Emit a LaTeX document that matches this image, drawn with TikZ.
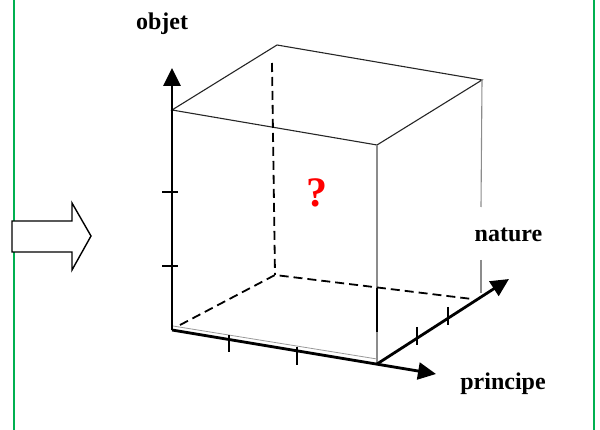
\documentclass[tikz,border=0pt]{standalone}
\usepackage{fontspec}
\setmainfont{Liberation Serif}
\usetikzlibrary{arrows.meta}
\definecolor{frameGreen}{RGB}{0,176,80}
\begin{document}
\begin{tikzpicture}[x=1pt,y=-1pt,
  axis/.style={line width=2.8pt, -{Triangle[length=18pt,width=17pt]}},
  tickmark/.style={line width=1.7pt},
  edge/.style={line width=1.1pt, black!85},
  greyedge/.style={line width=1.1pt, black!45},
  hidden/.style={line width=1.8pt, dash pattern=on 9pt off 5pt},
  lbl/.style={font=\fontsize{24}{26}\selectfont\bfseries, inner sep=0pt},
  bigarrow/.style={draw=black, line width=1.4pt, fill=white, line join=miter}]
\useasboundingbox (0,0) rectangle (600,430);
% green frame sides
\draw[frameGreen, line width=2pt] (14,0) -- (14,430);
\draw[frameGreen, line width=2pt] (594,0) -- (594,430);
% big outlined arrow
\draw[bigarrow] (12,221) -- (72,221) -- (72,203) -- (91,236) -- (72,270) -- (72,252) -- (12,252) -- cycle;
% cube corners
\coordinate (O) at (172,330);
\coordinate (P) at (377,364);
\coordinate (N) at (472,299);
\coordinate (B) at (275,275);
\coordinate (T1) at (172,110);
\coordinate (T2) at (277,45);
\coordinate (T3) at (482,80);
\coordinate (T4) at (377,145);
\coordinate (D1) at (272,63);
\coordinate (D2) at (180,325);
\coordinate (R1) at (481,207);
\coordinate (R2) at (481,260);
\coordinate (R3) at (481,293);
\coordinate (F1) at (377,288);
% top face
\draw[edge] (T1) -- (T2) -- (T3) -- (T4) -- cycle;
% vertical edges
\draw[greyedge] (T4) -- (P);
\draw[line width=1.1pt] (F1) -- (377,332);
\draw[greyedge] (T3) -- (R1);
\draw[greyedge] (R2) -- (R3);
\draw[black!40, line width=0.8pt] (173,326) -- (377,359);
% hidden edges
\draw[hidden] (D1) -- (B);
\draw[hidden] (D2) -- (B) -- (N);
% axes
\coordinate (Zobj) at (172,68);
\coordinate (Zpr) at (436,374);
\coordinate (Zna) at (509,279);
\draw[axis] (O) -- (Zobj);
\draw[axis] (O) -- (Zpr);
\draw[axis] (P) -- (Zna);
% ticks
\draw[tickmark] (162,192) -- (178,192);
\draw[tickmark] (162,266) -- (178,266);
\draw[tickmark] (229,335) -- (229,352);
\draw[tickmark] (297,347) -- (297,365);
\draw[tickmark] (417,327) -- (417,345);
\draw[tickmark] (448,307) -- (448,325);
% labels
\node[lbl, anchor=base] (objet) at (162,30) {objet};
\node[lbl, anchor=base] (nature) at (508.5,242) {nature};
\node[lbl, anchor=base] (principe) at (503,389) {principe};
\node[inner sep=0pt, text=red, font=\fontsize{42}{44}\selectfont\bfseries] (q) at (317,193) {?};
\end{tikzpicture}
\end{document}
